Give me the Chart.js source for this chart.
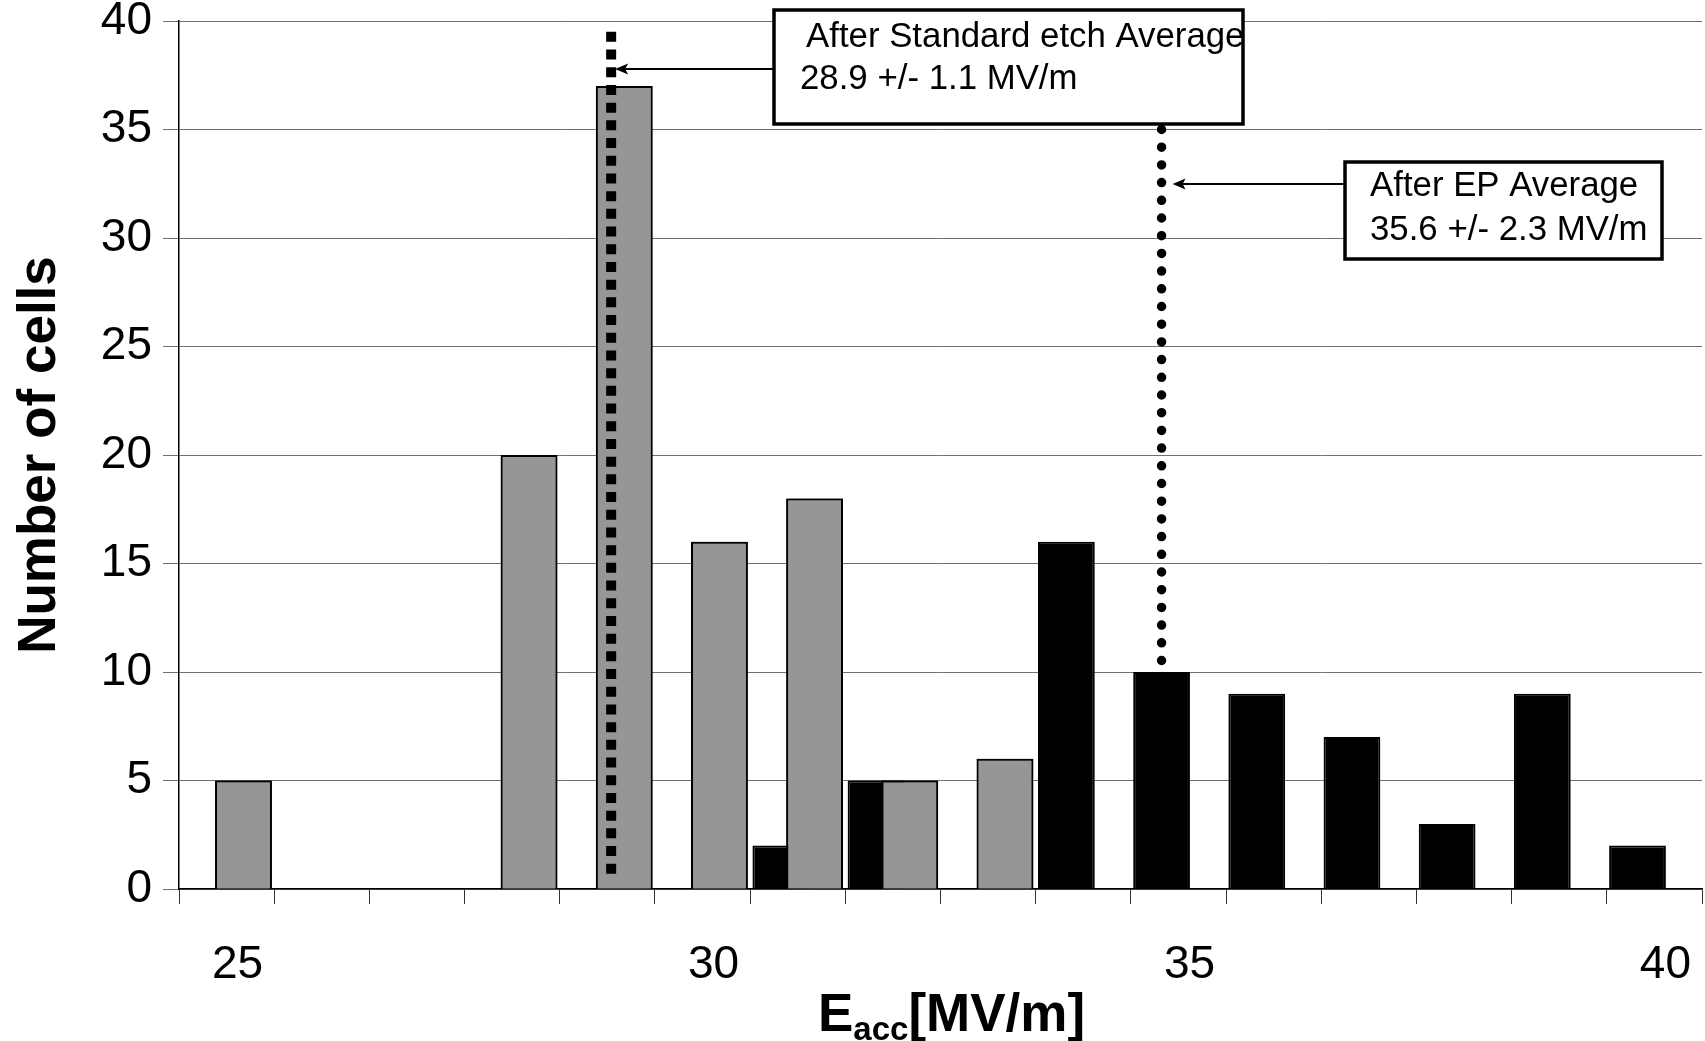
<!DOCTYPE html>
<html>
<head>
<meta charset="utf-8">
<script src="https://cdn.jsdelivr.net/npm/chart.js@4"></script>
<style>
  body { margin: 0; background: #fff; }
  canvas { display: block; }
</style>
</head>
<body>
<canvas id="chart" width="1705" height="1041"></canvas>
<script>
// bins of Eacc in MV/m
var categories = ['25', '26', '27', '28', '29', '30', '31', '32', '33', '34', '35', '36', '37', '38', '39', '40'];
var etchCells = [5, 0, 0, 20, 37, 16, 18, 5, 6, 0, 0, 0, 0, 0, 0, 0];
var epCells = [0, 0, 0, 0, 0, 0, 2, 5, 0, 16, 10, 9, 7, 3, 9, 2];
var yTicks = [0, 5, 10, 15, 20, 25, 30, 35, 40];
var xTickShown = ['25', '30', '35', '40'];
var etchNote = ['After Standard etch Average', '28.9 +/- 1.1 MV/m'];
var epNote = ['After EP Average', '35.6 +/- 2.3 MV/m'];

var fam = "'Liberation Sans', Arial, sans-serif";

var drawBox = function (ctx, x, y, w, h) {
	ctx.fillStyle = '#fff';
	ctx.fillRect(x, y, w, h);
	ctx.strokeStyle = '#000';
	ctx.lineWidth = 3.5;
	ctx.setLineDash([]);
	ctx.strokeRect(x, y, w, h);
};

var drawArrow = function (ctx, fromX, tipX, yy) {
	ctx.strokeStyle = '#000';
	ctx.lineWidth = 2;
	ctx.setLineDash([]);
	ctx.beginPath();
	ctx.moveTo(fromX, yy);
	ctx.lineTo(tipX + 8, yy);
	ctx.stroke();
	ctx.fillStyle = '#000';
	ctx.beginPath();
	ctx.moveTo(tipX, yy);
	ctx.lineTo(tipX + 13, yy - 5.5);
	ctx.lineTo(tipX + 10, yy);
	ctx.lineTo(tipX + 13, yy + 5.5);
	ctx.closePath();
	ctx.fill();
};

var notes = {
	id: 'notes',
	afterDatasetsDraw: function (chart) {
		// etch bars sit in front of the EP bars
		chart.getDatasetMeta(1).controller.draw();
	},
	afterDraw: function (chart) {
		var ctx = chart.ctx;
		var x = chart.scales.x, y = chart.scales.y;
		var step = x.getPixelForValue(1) - x.getPixelForValue(0);
		ctx.save();

		// square dotted line, standard etch average
		var x1 = x.getPixelForValue(4) + step * 0.04;
		ctx.strokeStyle = '#000';
		ctx.lineWidth = 10;
		ctx.lineCap = 'butt';
		ctx.setLineDash([10, 7.7]);
		ctx.beginPath();
		ctx.moveTo(x1, y.getPixelForValue(39.5));
		ctx.lineTo(x1, y.getPixelForValue(0.5));
		ctx.stroke();

		// round dots, EP average
		var x2 = chart.getDatasetMeta(0).data[10].x;
		ctx.lineWidth = 9.5;
		ctx.lineCap = 'round';
		ctx.setLineDash([0, 17.7]);
		ctx.beginPath();
		ctx.moveTo(x2, y.getPixelForValue(35));
		ctx.lineTo(x2, y.getPixelForValue(10.35));
		ctx.stroke();
		ctx.lineCap = 'butt';

		// text boxes
		drawBox(ctx, 774, 10, 469, 114);
		drawBox(ctx, 1345, 162, 317, 97);
		ctx.fillStyle = '#000';
		ctx.font = '34.8px ' + fam;
		ctx.textBaseline = 'middle';
		ctx.textAlign = 'left';
		ctx.fillText(etchNote[0], 806, 37);
		ctx.fillText(etchNote[1], 800, 79);
		ctx.fillText(epNote[0], 1370, 186);
		ctx.fillText(epNote[1], 1370, 230);

		drawArrow(ctx, 774, x1 + 4, 69);
		drawArrow(ctx, 1345, x2 + 11, 184);

		// x axis title with subscript
		var big = 'bold 53px ' + fam, small = 'bold 33px ' + fam;
		ctx.textBaseline = 'alphabetic';
		ctx.font = big;
		var wE = ctx.measureText('E').width;
		var wU = ctx.measureText('[MV/m]').width;
		ctx.font = small;
		var wS = ctx.measureText('acc').width;
		var start = (chart.chartArea.left + chart.chartArea.right) / 2 + 11 - (wE + wS + wU) / 2;
		ctx.font = big;
		ctx.fillText('E', start, 1031);
		ctx.fillText('[MV/m]', start + wE + wS, 1031);
		ctx.font = small;
		ctx.fillText('acc', start + wE, 1040);
		ctx.restore();
	}
};

var ctx = document.getElementById('chart').getContext('2d');
var myChart = new Chart(ctx, {
	type: 'bar',
	data: {
		labels: categories,
		datasets: [{
			label: 'After EP',
			data: epCells,
			backgroundColor: '#000000',
			borderColor: '#000000',
			borderWidth: 2,
			categoryPercentage: 0.71,
			barPercentage: 1.68
		}, {
			label: 'After Standard etch',
			data: etchCells,
			backgroundColor: '#969696',
			borderColor: '#000000',
			borderWidth: 2,
			categoryPercentage: 0.71,
			barPercentage: 1.68
		}]
	},
	options: {
		responsive: false,
		devicePixelRatio: 1,
		animation: false,
		layout: { padding: { top: 21, right: 3, left: 0, bottom: 0 } },
		plugins: {
			legend: { display: false },
			tooltip: { enabled: false }
		},
		scales: {
			x: {
				offset: true,
				grid: {
					offset: true,
					drawOnChartArea: false,
					drawTicks: true,
					tickLength: 15,
					color: '#333'
				},
				border: { color: '#000', width: 1.5 },
				ticks: {
					autoSkip: false,
					maxRotation: 0,
					padding: 34,
					labelOffset: 11,
					color: '#000',
					font: { family: fam, size: 46 },
					callback: function (v) {
						var lab = categories[v];
						return xTickShown.indexOf(lab) >= 0 ? lab : '';
					}
				},
				afterFit: function (s) { s.height = 152; s.paddingLeft = 0; s.paddingRight = 0; }
			},
			y: {
				min: yTicks[0],
				max: yTicks[yTicks.length - 1],
				grid: {
					color: '#707070',
					lineWidth: 1,
					tickLength: 16
				},
				border: { color: '#000', width: 1.5 },
				ticks: {
					stepSize: yTicks[1] - yTicks[0],
					padding: 11,
					color: '#000',
					font: { family: fam, size: 46 }
				},
				title: {
					display: true,
					text: 'Number of cells',
					color: '#000',
					padding: { top: 9, bottom: 0 },
					font: { family: fam, size: 53, weight: 'bold' }
				},
				afterFit: function (s) { s.width = 179; s.paddingTop = 0; s.paddingBottom = 0; }
			}
		}
	},
	plugins: [notes]
});
</script>
</body>
</html>
